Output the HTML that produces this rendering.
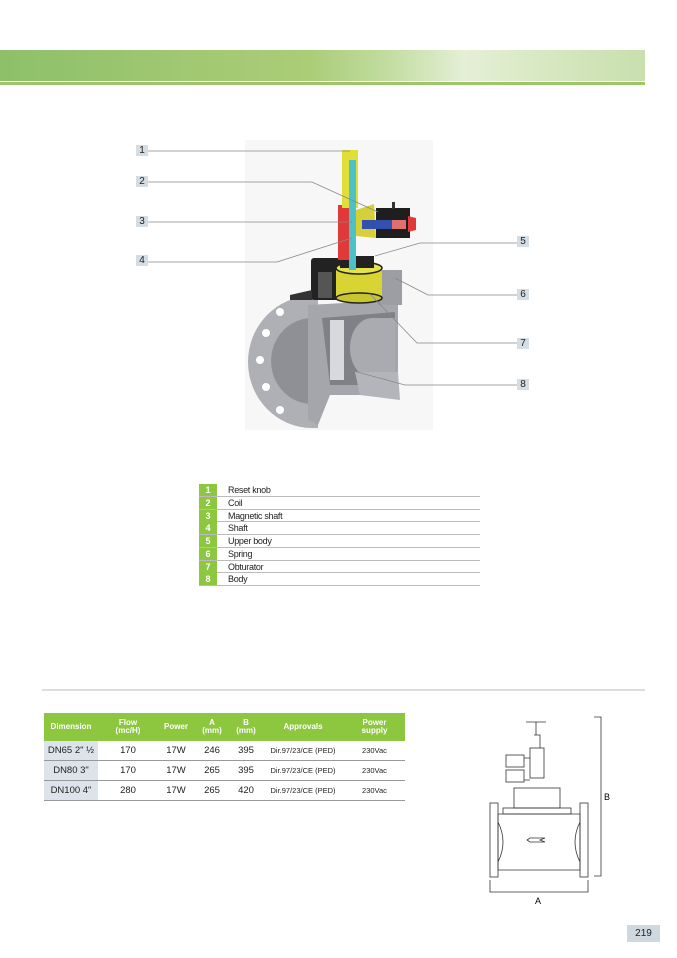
<!DOCTYPE html>
<html><head><meta charset="utf-8">
<style>
body{margin:0;width:677px;height:958px;background:#fff;position:relative;overflow:hidden;font-family:"Liberation Sans",sans-serif;}
.a{position:absolute;}
.lb{position:absolute;width:12px;height:11px;background:#d5dde4;font-size:10px;line-height:11px;text-align:center;color:#222;}
.leg{position:absolute;left:199px;top:484px;width:281px;}
.leg div{height:12.75px;border-bottom:1px solid #bbb;font-size:9px;line-height:12px;color:#222;position:relative;box-sizing:border-box;}
.leg span{position:absolute;left:0;top:0;width:18px;height:12px;background:#8dc63f;color:#fff;font-weight:bold;text-align:center;}
.leg b{font-weight:normal;position:absolute;left:29px;letter-spacing:-0.3px;}
table{position:absolute;left:44px;top:713px;width:361px;border-collapse:collapse;font-size:9px;color:#222;table-layout:fixed;}
th{background:#8dc63f;color:#fff;font-size:8px;line-height:8px;height:28px;font-weight:bold;padding:0;}
td{height:19px;border-bottom:1px solid #999;text-align:center;padding:0;font-size:9.5px;}
td.d{background:#dde3ea;}
td.s{font-size:7.5px;}
</style></head><body>
<div class="a" style="left:0;top:50px;width:645px;height:31px;background:linear-gradient(90deg,#8dc06a 0%,#a2c872 30%,#aacd78 48%,#c2dca0 60%,#e4efd6 72%,#d7e8c0 85%,#c9dfae 100%);"></div>
<div class="a" style="left:0;top:82px;width:645px;height:3px;background:#9dc66a;"></div>

<svg class="a" style="left:0;top:0" width="677" height="958">
<rect x="245" y="140" width="188" height="290" fill="#f7f7f7"/>
<path d="M312 296 A64 66 0 0 0 312 428 L318 428 L318 298 Z" fill="#aeb0b5"/>
<path d="M312 318 A40 42 0 0 0 312 404 L318 404 L318 318Z" fill="#8e9096"/>
<circle cx="266" cy="333" r="4" fill="#fff"/><circle cx="260" cy="360" r="4" fill="#fff"/><circle cx="266" cy="387" r="4" fill="#fff"/><circle cx="280" cy="410" r="4" fill="#fff"/><circle cx="280" cy="312" r="4" fill="#fff"/>
<path d="M308 305 L398 300 L398 395 L330 395 L318 425 L308 420 Z" fill="#a4a6ab"/>
<path d="M322 318 L395 312 L395 385 L330 385 Z" fill="#7f8186"/>
<path d="M372 318 A22 30 0 0 0 372 378 L395 378 L395 318Z" fill="#a9abb0"/>
<rect x="330" y="320" width="14" height="60" fill="#d8d9dc"/>
<path d="M355 372 L398 372 L400 400 L360 395Z" fill="#b3b5ba"/>
<path d="M378 270 L402 270 L402 305 L378 305Z" fill="#9c9ea3"/>
<rect x="311" y="258" width="30" height="42" rx="3" fill="#222"/>
<rect x="318" y="272" width="14" height="26" fill="#555"/>
<path d="M290 295 L312 290 L312 300 L290 300Z" fill="#333"/>
<rect x="336" y="268" width="46" height="30" fill="#d8d433"/>
<ellipse cx="359" cy="268" rx="23" ry="6" fill="#e6e24a" stroke="#222" stroke-width="1.5"/>
<ellipse cx="359" cy="298" rx="23" ry="5" fill="#c9c530" stroke="#222" stroke-width="1.5"/>
<rect x="340" y="256" width="34" height="12" fill="#222"/>
<rect x="338" y="205" width="14" height="55" fill="#e0393a"/>
<rect x="342" y="150" width="16" height="58" fill="#e2de38"/>
<rect x="349" y="160" width="7" height="110" fill="#4cc1c7"/>
<path d="M356 210 L374 204 L376 238 L356 236Z" fill="#d5d038"/>
<rect x="376" y="208" width="34" height="30" fill="#1e1e1e"/>
<rect x="362" y="220" width="44" height="9" fill="#3350b0"/>
<rect x="392" y="220" width="14" height="9" fill="#e07070"/>
<path d="M408 216 L416 218 L416 230 L408 232Z" fill="#e0393a"/>
<rect x="392" y="202" width="3" height="7" fill="#333"/>
<g stroke="#888" stroke-width="0.8" fill="none">
<path d="M148 151 H350"/>
<path d="M148 182 H312 L378 212"/>
<path d="M148 222 H352"/>
<path d="M148 262 H277 L352 238"/>
<path d="M517 243 H420 L375 256"/>
<path d="M517 295 H428 L395 278"/>
<path d="M517 343 H417 L370 294"/>
<path d="M517 385 H405 L350 370"/>
</g>
<line x1="42" y1="690" x2="645" y2="690" stroke="#bbb" stroke-width="1"/>
<g stroke="#333" stroke-width="0.8" fill="none">
<path d="M526 722 H546 M536 722 V735 M534 735 H540 V748"/>
<rect x="530" y="748" width="14" height="30"/>
<rect x="506" y="755" width="18" height="12"/><rect x="506" y="770" width="18" height="12"/>
<path d="M524 758 L530 758 M524 780 L530 780"/>
<rect x="514" y="788" width="46" height="20"/>
<rect x="503" y="808" width="68" height="6"/>
<rect x="490" y="803" width="8" height="74"/><rect x="580" y="803" width="8" height="74"/>
<path d="M498 814 H580 V870 H498 Z"/>
<path d="M498 822 Q508 842 498 862 M580 822 Q570 842 580 862"/>
<path d="M545 838 L530 838 L527 840 L530 842 L545 842 L540 840Z"/>
<path d="M594 717 H601 V876 H594"/>
<path d="M490 880 V892 H588 V880"/>
</g>
</svg>

<div class="lb" style="left:136px;top:145px">1</div>
<div class="lb" style="left:136px;top:176px">2</div>
<div class="lb" style="left:136px;top:216px">3</div>
<div class="lb" style="left:136px;top:255px">4</div>
<div class="lb" style="left:517px;top:236px">5</div>
<div class="lb" style="left:517px;top:289px">6</div>
<div class="lb" style="left:517px;top:338px">7</div>
<div class="lb" style="left:517px;top:379px">8</div>

<div class="leg">
<div><span>1</span><b>Reset knob</b></div>
<div><span>2</span><b>Coil</b></div>
<div><span>3</span><b>Magnetic shaft</b></div>
<div><span>4</span><b>Shaft</b></div>
<div><span>5</span><b>Upper body</b></div>
<div><span>6</span><b>Spring</b></div>
<div><span>7</span><b>Obturator</b></div>
<div><span>8</span><b>Body</b></div>
</div>

<table>
<colgroup><col style="width:54px"><col style="width:60px"><col style="width:36px"><col style="width:36px"><col style="width:32px"><col style="width:82px"><col style="width:61px"></colgroup>
<tr><th>Dimension</th><th>Flow<br>(mc/H)</th><th>Power</th><th>A<br>(mm)</th><th>B<br>(mm)</th><th>Approvals</th><th>Power<br>supply</th></tr>
<tr><td class="d">DN65 2" ½</td><td>170</td><td>17W</td><td>246</td><td>395</td><td class="s">Dir.97/23/CE (PED)</td><td class="s">230Vac</td></tr>
<tr><td class="d">DN80 3"</td><td>170</td><td>17W</td><td>265</td><td>395</td><td class="s">Dir.97/23/CE (PED)</td><td class="s">230Vac</td></tr>
<tr><td class="d">DN100 4"</td><td>280</td><td>17W</td><td>265</td><td>420</td><td class="s">Dir.97/23/CE (PED)</td><td class="s">230Vac</td></tr>
</table>

<div class="a" style="left:604px;top:792px;font-size:9px;">B</div>
<div class="a" style="left:535px;top:896px;font-size:9px;">A</div>
<div class="a" style="left:627px;top:925px;width:33px;height:17px;background:#cfd7df;font-size:10px;line-height:17px;text-align:center;color:#222;">219</div>
</body></html>
